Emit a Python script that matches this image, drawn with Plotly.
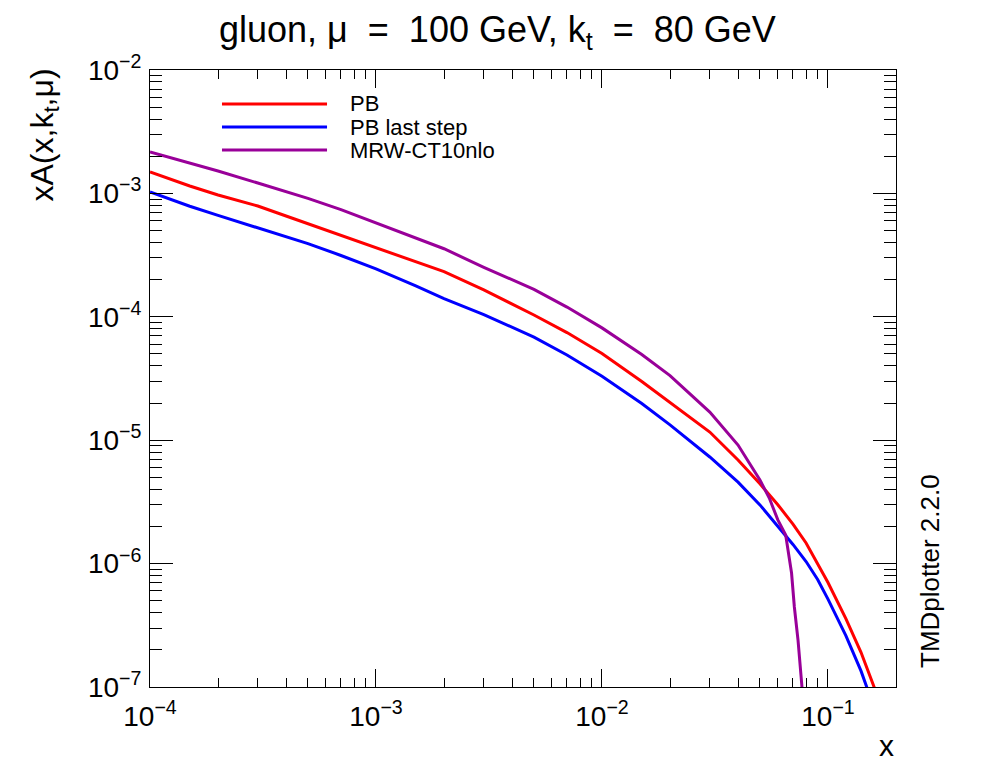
import plotly.graph_objects as go

# ---- data ----
x_pb = [1e-4, 1.5e-4, 2e-4, 3e-4, 4e-4, 5e-4, 7e-4, 1e-3, 1.5e-3, 2e-3, 3e-3, 4e-3, 5e-3, 7e-3,
        1e-2, 1.5e-2, 2e-2, 3e-2, 4e-2, 5e-2, 6e-2, 7e-2, 8e-2, 9e-2, 0.1, 0.12, 0.14, 0.16, 0.165]
y_pb = [1.49e-3, 1.148e-3, 9.70e-4, 7.90e-4, 6.56e-4, 5.69e-4, 4.56e-4, 3.65e-4, 2.81e-4, 2.32e-4,
        1.65e-4, 1.27e-4, 1.035e-4, 7.45e-5, 5.05e-5, 2.99e-5, 2.01e-5, 1.165e-5, 6.92e-6, 4.43e-6,
        3.00e-6, 2.09e-6, 1.47e-6, 9.93e-7, 7.03e-7, 3.58e-7, 1.91e-7, 1.0e-7, 8.5e-8]

x_last = [1e-4, 1.5e-4, 2e-4, 3e-4, 4e-4, 5e-4, 7e-4, 1e-3, 1.5e-3, 2e-3, 3e-3, 4e-3, 5e-3, 7e-3,
          1e-2, 1.5e-2, 2e-2, 3e-2, 4e-2, 5e-2, 6e-2, 7e-2, 8e-2, 9e-2, 0.1, 0.12, 0.14, 0.149, 0.155]
y_last = [1.026e-3, 7.87e-4, 6.63e-4, 5.25e-4, 4.48e-4, 3.92e-4, 3.14e-4, 2.45e-4, 1.78e-4, 1.405e-4,
          1.042e-4, 8.25e-5, 6.84e-5, 4.90e-5, 3.30e-5, 1.98e-5, 1.33e-5, 7.31e-6, 4.57e-6, 2.99e-6,
          2.00e-6, 1.43e-6, 1.04e-6, 7.43e-7, 5.16e-7, 2.61e-7, 1.35e-7, 1.0e-7, 8.0e-8]

x_mrw = [1e-4, 1.5e-4, 2e-4, 3e-4, 4e-4, 5e-4, 7e-4, 1e-3, 1.5e-3, 2e-3, 3e-3, 4e-3, 5e-3, 7e-3,
         1e-2, 1.5e-2, 2e-2, 3e-2, 4e-2, 5e-2, 5.5e-2, 6e-2, 6.5e-2, 6.9e-2, 7.1e-2, 7.37e-2, 7.67e-2, 7.8e-2]
y_mrw = [2.166e-3, 1.770e-3, 1.519e-3, 1.214e-3, 1.038e-3, 9.11e-4, 7.39e-4, 5.79e-4, 4.36e-4, 3.56e-4,
         2.52e-4, 2.00e-4, 1.667e-4, 1.199e-4, 8.13e-5, 4.95e-5, 3.34e-5, 1.692e-5, 9.14e-6, 4.76e-6,
         3.40e-6, 2.26e-6, 1.705e-6, 8.39e-7, 4.45e-7, 2.40e-7, 1.0e-7, 7.0e-8]

series_names = ["PB", "PB last step", "MRW-CT10nlo"]
series_colors = ["#ff0000", "#0000ff", "#990099"]

x_decades = [1e-4, 1e-3, 1e-2, 1e-1]
x_ticktext = ["10<sup>−4</sup>", "10<sup>−3</sup>", "10<sup>−2</sup>", "10<sup>−1</sup>"]
y_decades = [1e-7, 1e-6, 1e-5, 1e-4, 1e-3, 1e-2]
y_ticktext = ["10<sup>−7</sup>", "10<sup>−6</sup>", "10<sup>−5</sup>",
              "10<sup>−4</sup>", "10<sup>−3</sup>", "10<sup>−2</sup>"]

x_minor = [m * d for d in [1e-4, 1e-3, 1e-2] for m in range(2, 10)] + [2e-1]
y_minor = [m * d for d in [1e-7, 1e-6, 1e-5, 1e-4, 1e-3] for m in range(2, 10)]

FONT = "Liberation Sans, Arial, Helvetica, sans-serif"
NB = "\u00a0"

fig = go.Figure()
for xs, ys, name, col in zip([x_pb, x_last, x_mrw], [y_pb, y_last, y_mrw], series_names, series_colors):
    fig.add_trace(go.Scatter(x=xs, y=ys, mode="lines", name=name,
                             line=dict(color=col, width=3), showlegend=False))

# legend drawn in ROOT style (long line samples)
leg_y = [0.9449, 0.9076, 0.8703]
for ly, name, col in zip(leg_y, series_names, series_colors):
    fig.add_shape(type="line", xref="paper", yref="paper", x0=0.0965, x1=0.2373, y0=ly, y1=ly,
                  line=dict(color=col, width=3))
    fig.add_annotation(xref="paper", yref="paper", x=0.2654, y=ly, text=name, showarrow=False,
                       xanchor="left", yanchor="middle", font=dict(family=FONT, size=22, color="black"))

fig.update_xaxes(type="log", range=[-4, -0.69897], tickmode="array", tickvals=x_decades,
                 ticktext=x_ticktext, ticks="inside", ticklen=18, tickwidth=1, tickcolor="black",
                 showline=True, linecolor="black", linewidth=1, mirror="ticks", showgrid=False,
                 zeroline=False, tickfont=dict(family=FONT, size=28, color="black"),
                 ticklabelstandoff=4,
                 minor=dict(tickmode="array", tickvals=x_minor, ticks="inside", ticklen=9,
                            tickwidth=1, tickcolor="black", showgrid=False))
fig.update_yaxes(type="log", range=[-7, -2], tickmode="array", tickvals=y_decades,
                 ticktext=y_ticktext, ticks="inside", ticklen=23, tickwidth=1, tickcolor="black",
                 showline=True, linecolor="black", linewidth=1, mirror="ticks", showgrid=False,
                 zeroline=False, tickfont=dict(family=FONT, size=28, color="black"),
                 ticklabelstandoff=2,
                 minor=dict(tickmode="array", tickvals=y_minor, ticks="inside", ticklen=12,
                            tickwidth=1, tickcolor="black", showgrid=False))

# title
title_text = ("gluon," + NB + "μ" + NB * 2 + "=" + NB * 2 + "100" + NB + "GeV," + NB
              + "k<sub>t</sub>" + NB * 2 + "=" + NB * 2 + "80" + NB + "GeV")
fig.add_annotation(xref="paper", yref="paper", x=(497 - 150) / 746, y=1.0 + (70 - 32) / 617,
                   text=title_text, showarrow=False,
                   xanchor="center", yanchor="middle", font=dict(family=FONT, size=36, color="black"))
# y-axis title (aligned to top, like ROOT)
fig.add_annotation(xref="paper", yref="paper", x=(44 - 150) / 746, y=1.0 + 4 / 617,
                   text="xA(x,k<sub>t</sub>,μ)", showarrow=False, textangle=-90,
                   xanchor="center", yanchor="top", font=dict(family=FONT, size=32, color="black"))
# x-axis title (aligned to right)
fig.add_annotation(xref="paper", yref="paper", x=(896 - 150) / 746, y=-(745 - 687) / 617,
                   text="x", showarrow=False, xanchor="right", yanchor="middle",
                   font=dict(family=FONT, size=30, color="black"))
# version tag
fig.add_annotation(xref="paper", yref="paper", x=(930 - 150) / 746, y=(687 - 670) / 617,
                   text="TMDplotter 2.2.0", showarrow=False, textangle=-90,
                   xanchor="center", yanchor="bottom", font=dict(family=FONT, size=26, color="black"))

# page body has an 8px margin: size the figure so the plot frame lands where the reference has it
fig.update_layout(width=988, height=764, margin=dict(l=142, r=100, t=62, b=85),
                  paper_bgcolor="white", plot_bgcolor="white",
                  font=dict(family=FONT, color="black"))

fig.write_html("out.html")
